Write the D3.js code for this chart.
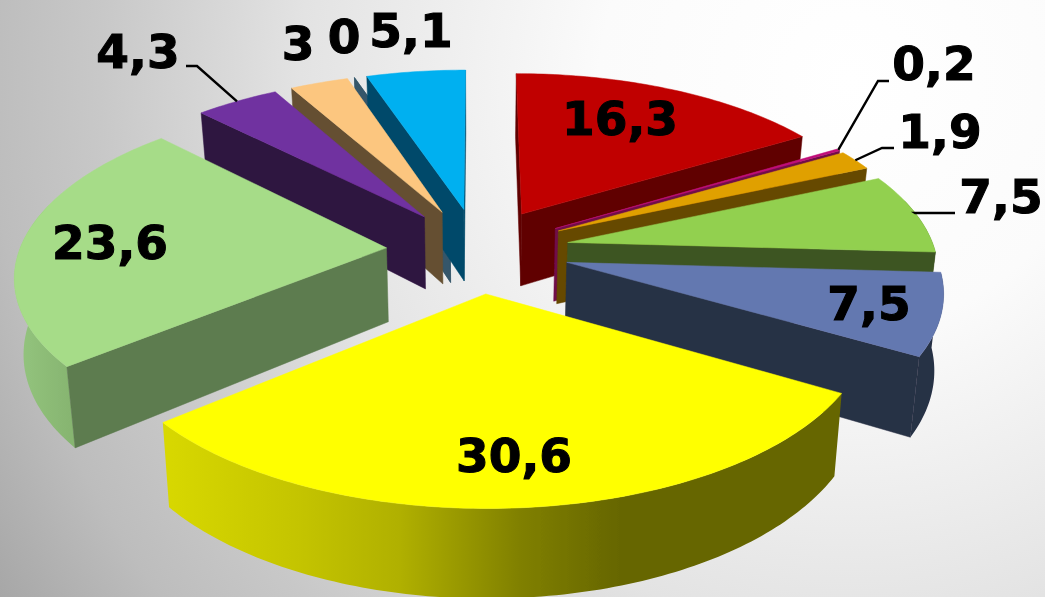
<!DOCTYPE html>
<html><head><meta charset="utf-8">
<script src="https://cdnjs.cloudflare.com/ajax/libs/d3/7.8.5/d3.min.js"></script>
<style>html,body{margin:0;padding:0;background:#fff}svg{display:block}</style>
</head><body><svg id="c" width="1045" height="597"></svg>
<script>
// ---- data ----
const values = [16.3, 0.2, 1.9, 7.5, 7.5, 30.6, 23.6, 4.3, 3, 0, 5.1];
const labels = ["16,3", "0,2", "1,9", "7,5", "7,5", "30,6", "23,6", "4,3", "3", "0", "5,1"];

// ---- styles ----
const topColors  = ["#c00000","#c0107a","#e0a000","#92d050","#6478b0","#ffff00","#a6dc88","#7030a0","#fcc67f","#34566a","#00b0f0"];
const wallColors = ["#600000","#700a48","#664800","#3e5522","#283045","#666600","#5d7b4f","#2e1440","#655033","#34566a","#004a6a"];
const rimStops   = [[], [], [], [], [], [[165,"#d8d800"],[300,"#c4c400"],[400,"#b0b000"],[520,"#808000"],[620,"#666600"]], [[12,"#95c67f"],[70,"#87b571"]], [], [], [], []];
const paintOrder = [9,10,8,7,6,0,1,2,3,4,5];
// label layout: anchor [x, baseline y]; leader elbow [x, y] and start [x, y]
const labelPos = [[620,135],[934,80],[940,148],[1001,213],[869,320],[514,472],[110,259],[138,68],[298,60],[344,53],[411,47]];
const leaders = {1:[[889,81],[878,81]], 2:[[894,148],[882,148]], 3:[[955,213],[915,213]], 7:[[186,66],[197,66]]};

// ---- projection ----
const cx = 478, cy = 250, depth = 7, explode = 0.25, thick = 74, squeeze = 0.98;
const sx = d3.scaleLinear().domain([0,1]).range([0,367]);
const sz = d3.scaleLinear().domain([0,1]).range([0,170]);
const persp = z => 1/(1 - z/depth);
function proj(x, z, bottom){
  const s = persp(z);
  const px = sx(x)*s, py = sz(z)*s;
  return bottom ? [cx + px*squeeze, cy + py + thick*s] : [cx + px, cy + py];
}
const arcs = d3.pie().sort(null).value(d => d)(values);
const line = d3.line();
const svg = d3.select("#c");
const defs = svg.append("defs");

// background
const bg = defs.append("radialGradient").attr("id","bg").attr("gradientUnits","userSpaceOnUse")
  .attr("cx",850).attr("cy",80).attr("r",1000);
[[0,"#ffffff"],[.25,"#fbfbfb"],[.55,"#e3e3e3"],[.62,"#d9d9d9"],[.75,"#c8c8c8"],[.86,"#bdbdbd"],[1,"#a6a6a6"]]
  .forEach(s => bg.append("stop").attr("offset",s[0]).attr("stop-color",s[1]));
svg.append("rect").attr("width",1045).attr("height",597).attr("fill","url(#bg)");
defs.append("filter").attr("id","soft").attr("x","-5%").attr("y","-5%").attr("width","110%").attr("height","110%")
  .append("feGaussianBlur").attr("stdDeviation",0.45);

const g = svg.append("g").attr("filter","url(#soft)");
const deg = Math.PI/180;

paintOrder.forEach(i => {
  const a = arcs[i], a0 = a.startAngle, a1 = a.endAngle, mid = (a0+a1)/2;
  const ox = explode*Math.sin(mid), oz = -explode*Math.cos(mid);
  const pt = (ang, bottom) => proj(ox+Math.sin(ang), oz-Math.cos(ang), bottom);
  const apexT = proj(ox,oz,false), apexB = proj(ox,oz,true);
  const steps = Math.max(2, Math.ceil((a1-a0)/deg));
  const angs = d3.range(steps+1).map(k => a0+(a1-a0)*k/steps);
  const pMid = pt(mid,false);

  // outer rim: the part that can show below the top surface
  const r0 = Math.max(a0,75*deg), r1 = Math.min(a1,285*deg);
  if (r1 > r0) {
    const n = Math.ceil((r1-r0)/deg);
    const ra = d3.range(n+1).map(k => r0+(r1-r0)*k/n);
    let fill = wallColors[i];
    if (rimStops[i].length) {
      const id = "rim"+i, st = rimStops[i];
      const gr = defs.append("linearGradient").attr("id",id).attr("gradientUnits","userSpaceOnUse")
        .attr("x1",st[0][0]).attr("x2",st[st.length-1][0]).attr("y1",0).attr("y2",0);
      st.forEach(s => gr.append("stop").attr("offset",(s[0]-st[0][0])/(st[st.length-1][0]-st[0][0])).attr("stop-color",s[1]));
      fill = "url(#"+id+")";
    }
    const poly = ra.map(t => pt(t,false)).concat(ra.slice().reverse().map(t => pt(t,true)));
    g.append("path").attr("d", line(poly)+"Z").attr("fill",fill);
  }

  const wallVisible = ang => {
    const c = pt(ang,false);
    if (a1-a0 < 1e-6) return true;
    const yL = apexT[1]+(c[1]-apexT[1])*(pMid[0]-apexT[0])/(c[0]-apexT[0]);
    return pMid[1] < yL;
  };
  [a0,a1].forEach(ang => {
    if (a1-a0 < 1e-6 && ang !== a0) return;
    if (!wallVisible(ang)) return;
    g.append("path").attr("d", line([pt(ang,false),apexT,apexB,pt(ang,true)])+"Z")
      .attr("fill",wallColors[i]).attr("stroke",wallColors[i]).attr("stroke-width",0.5);
  });

  // top surface
  if (a1-a0 > 1e-6) {
    const poly = [apexT].concat(angs.map(t => pt(t,false)));
    g.append("path").attr("d", line(poly)+"Z").attr("fill",topColors[i]).attr("stroke",topColors[i]).attr("stroke-width",0.5);
  }
});

// leaders
Object.keys(leaders).forEach(k => {
  const i = +k, a = arcs[i], mid = (a.startAngle+a.endAngle)/2;
  const ox = explode*Math.sin(mid), oz = -explode*Math.cos(mid);
  const end = proj(ox+Math.sin(mid), oz-Math.cos(mid), false);
  g.append("path").attr("d", line(leaders[k].concat([end]))).attr("fill","none")
    .attr("stroke","#000").attr("stroke-width",2.4);
});

// labels
g.selectAll("text.v").data(labels).enter().append("text").attr("class","v")
  .attr("x",(d,i)=>labelPos[i][0]).attr("y",(d,i)=>labelPos[i][1])
  .attr("text-anchor","middle")
  .attr("font-family","'DejaVu Sans',Verdana,sans-serif")
  .attr("font-weight","bold").attr("font-size",47).attr("fill","#000")
  .attr("stroke","#000").attr("stroke-width",1.1)
  .text(d=>d);
</script></body></html>
